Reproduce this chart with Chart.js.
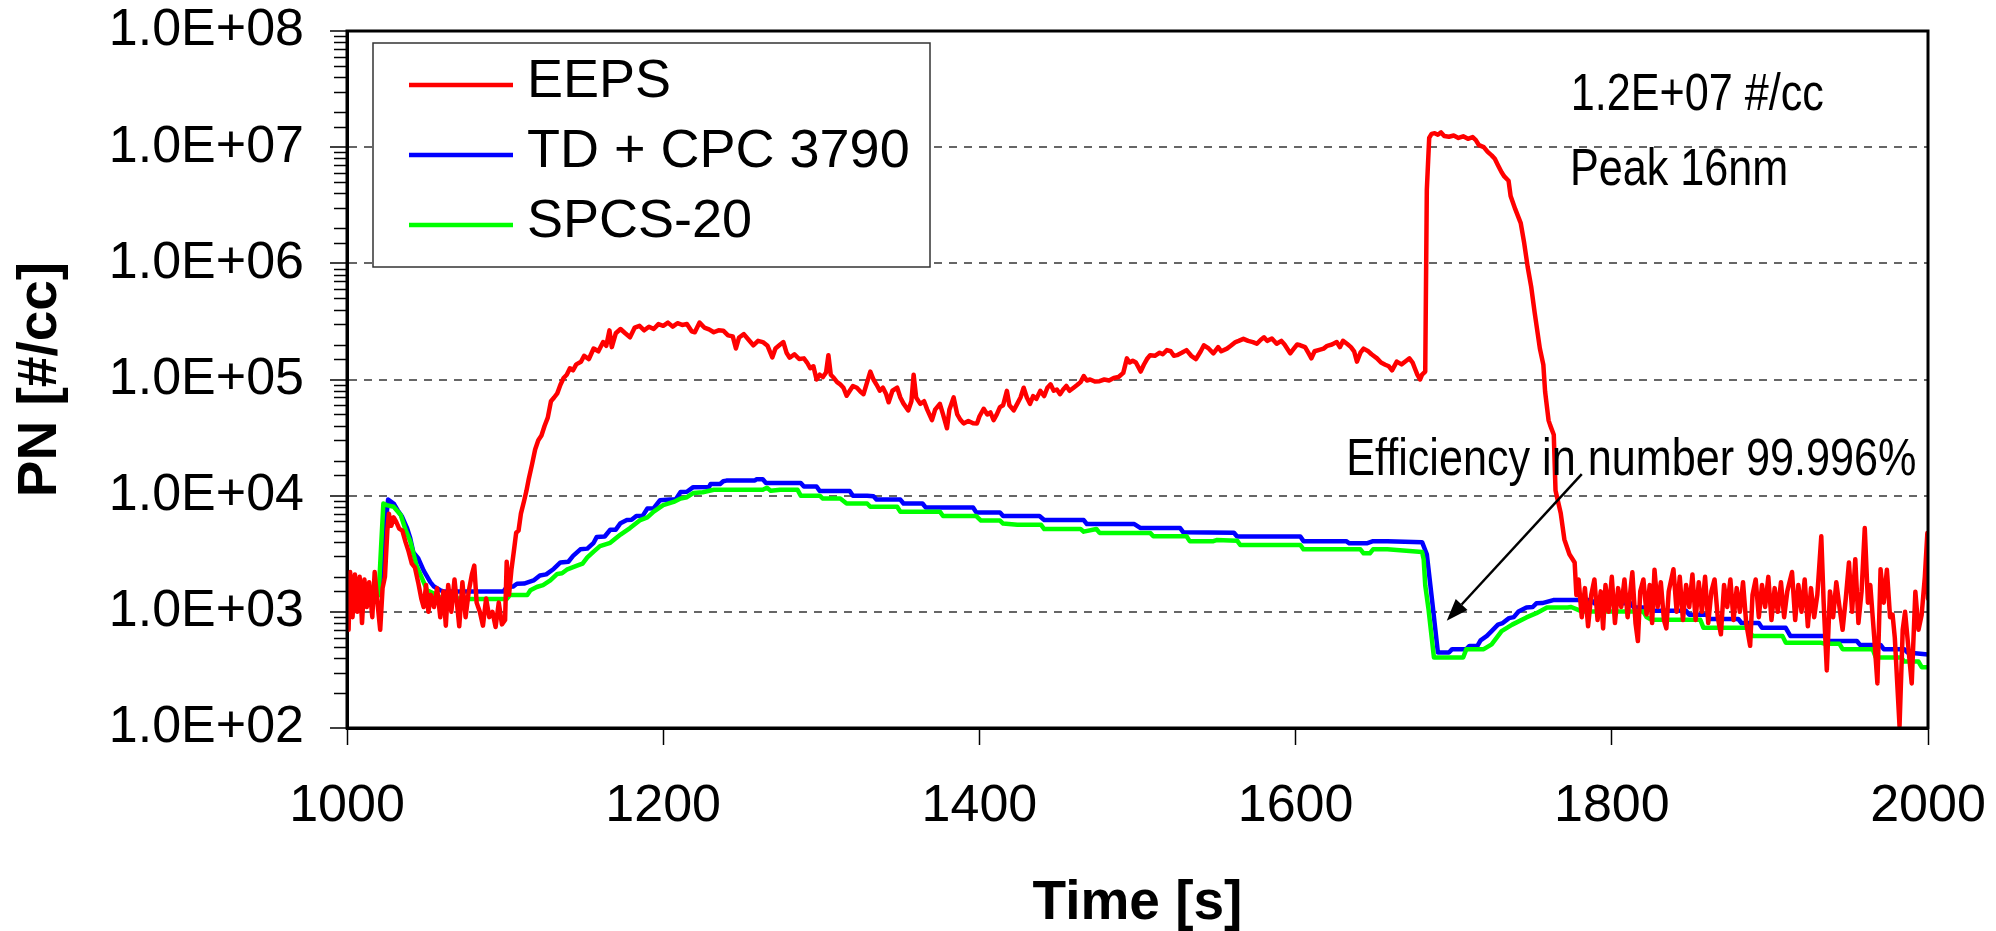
<!DOCTYPE html>
<html>
<head>
<meta charset="utf-8">
<title>PN vs time</title>
<script src="https://cdn.jsdelivr.net/npm/chart.js@4.4.1/dist/chart.umd.min.js"></script>
<style>
    html, body { margin: 0; padding: 0; background: #fff; }
    #wrap { width: 1996px; height: 931px; }
</style>
</head>
<body>
<div id="wrap"><canvas id="pn-chart" width="1996" height="931"></canvas></div>
<script>
const FONT = '"Liberation Sans", Arial, Helvetica, sans-serif';

const seriesLabels = ['EEPS', 'TD + CPC 3790', 'SPCS-20'];
const seriesColors = ['#ff0000', '#0000ff', '#00ff00'];

const timeTicks = [1000, 1200, 1400, 1600, 1800, 2000];
const pnTickLabels = ['1.0E+02', '1.0E+03', '1.0E+04', '1.0E+05', '1.0E+06', '1.0E+07', '1.0E+08'];

// [time s, PN #/cc]
const eepsSeries = [
    [1000, 1100], [1001, 700], [1002, 2200], [1003.5, 900], [1005, 2100], [1006.5, 1000], [1008, 2000], [1009.5, 800],
    [1011, 1900], [1012.5, 1100], [1014, 1800], [1016, 900], [1017.5, 2200], [1019, 1300], [1021, 700], [1022.5, 1600],
    [1024, 2000], [1025.5, 5000], [1026.5, 7000], [1028, 5500], [1029.5, 6500], [1031, 6000], [1033, 5200], [1035, 5000],
    [1037, 4000], [1039, 3300], [1041, 2600], [1043, 2400], [1045, 1800], [1047, 1300], [1048.5, 1100], [1050, 1700],
    [1051.5, 1000], [1053, 1400], [1055, 1100], [1057, 1600], [1059, 900], [1061, 1500], [1062.5, 760], [1064, 1700],
    [1066, 1000], [1068, 1900], [1069.5, 1200], [1071, 750], [1073, 1800], [1075, 900], [1077, 1500], [1079, 2100],
    [1080.5, 2500], [1082, 1200], [1084, 1000], [1086, 760], [1088, 1300], [1090, 900], [1092, 1000], [1094, 740],
    [1096, 1200], [1098, 780], [1100, 850], [1101, 2700], [1102.5, 1400], [1104, 2300], [1105.5, 3300], [1107, 4800],
    [1108.5, 5000], [1110, 7000], [1112, 9000], [1113.5, 11000], [1115, 14000], [1117, 18500], [1119, 25000], [1121, 30000],
    [1123, 33000], [1125, 40000], [1127, 47000], [1129, 65000], [1131, 70000], [1133, 76000], [1135, 90000], [1137, 103000],
    [1139, 110000], [1141, 125000], [1143, 120000], [1145, 135000], [1148, 142000], [1150, 160000], [1153, 150000], [1156, 185000],
    [1159, 175000], [1162, 210000], [1164, 195000], [1166, 265000], [1167.5, 190000], [1170, 250000], [1173, 272000], [1176, 250000],
    [1179, 231000], [1182, 280000], [1185, 290000], [1188, 265000], [1191, 285000], [1194, 272000], [1197, 300000], [1200, 290000],
    [1203, 309000], [1206, 285000], [1209, 305000], [1212, 295000], [1215, 300000], [1218, 260000], [1220, 255000], [1223, 309000],
    [1226, 280000], [1229, 270000], [1232, 255000], [1235, 265000], [1238, 263000], [1241, 240000], [1244, 235000], [1246, 185000],
    [1248, 230000], [1251, 246000], [1254, 220000], [1257, 197000], [1260, 215000], [1263, 210000], [1266, 195000], [1269, 155000],
    [1271, 185000], [1274, 200000], [1276, 210000], [1278, 170000], [1280, 154000], [1283, 165000], [1286, 150000], [1289, 152000],
    [1291, 140000], [1293, 125000], [1295, 130000], [1297, 100000], [1299, 110000], [1301, 105000], [1303, 115000], [1304.5, 162000],
    [1306, 110000], [1308, 103000], [1310, 95000], [1312, 90800], [1314, 85000], [1316, 72400], [1318, 80000], [1320, 88000],
    [1322.5, 85000], [1325, 78000], [1326.7, 74800], [1329, 95000], [1331, 117000], [1333, 100000], [1335, 90000], [1337, 80000],
    [1339, 85000], [1341, 75000], [1342.6, 63700], [1345, 80000], [1348, 85000], [1350, 70000], [1352, 62000], [1355, 54200],
    [1357, 65000], [1358.4, 110000], [1360, 70000], [1362.6, 61700], [1365, 65000], [1367, 55000], [1370, 44700], [1372, 55000],
    [1375, 61700], [1377, 50000], [1379.5, 38000], [1381, 55000], [1383.7, 70100], [1386, 50000], [1388, 45000], [1390, 41900],
    [1393, 44000], [1396, 42000], [1398.5, 41900], [1400, 48000], [1402.7, 56000], [1405, 50000], [1407, 52000], [1409, 44700],
    [1411, 50000], [1413, 57800], [1415, 60000], [1417.4, 79800], [1419, 60000], [1421.7, 54200], [1424, 62000], [1426, 70000],
    [1428, 85000], [1430, 70000], [1432, 61700], [1434, 72000], [1436, 68000], [1438.5, 79800], [1441, 72000], [1443, 85000],
    [1445, 90800], [1447, 80000], [1449, 82000], [1451, 74800], [1453, 82000], [1455, 88000], [1457, 80000], [1459.6, 85000],
    [1462, 90000], [1464, 95000], [1466, 107000], [1468, 98000], [1470, 100000], [1473, 96000], [1476, 96800], [1479, 100000],
    [1482, 98000], [1485, 103000], [1488, 105000], [1491, 114000], [1493.3, 152000], [1495, 140000], [1497, 145000], [1499, 140000],
    [1502, 117000], [1504, 134000], [1506, 150000], [1508, 162000], [1511, 160000], [1514, 170000], [1516, 165000], [1518.6, 179000],
    [1521, 175000], [1523, 160000], [1525, 162000], [1528, 170000], [1531, 179000], [1534, 160000], [1537, 150000], [1540, 175000],
    [1542, 197000], [1545, 185000], [1548, 168000], [1551, 190000], [1553, 175000], [1556.6, 184500], [1559, 195000], [1562, 210000],
    [1564, 215000], [1567, 224000], [1570, 215000], [1573, 210000], [1575.5, 203000], [1578, 220000], [1580, 231000], [1582, 215000],
    [1585, 225000], [1588, 203000], [1591, 215000], [1593, 200000], [1596.6, 168000], [1599, 185000], [1601, 200000], [1603, 197000],
    [1606, 190000], [1608, 170000], [1610, 152000], [1612, 175000], [1615, 180000], [1617.7, 184500], [1620, 195000], [1623, 200000],
    [1626, 210000], [1628, 190000], [1630, 215000], [1632.5, 203000], [1635, 190000], [1637, 175000], [1638.8, 142600], [1641, 170000],
    [1643, 184500], [1646, 175000], [1648, 165000], [1651.5, 152000], [1654, 140000], [1656.7, 134000], [1659, 130000], [1661, 120000],
    [1664, 142600], [1667, 135000], [1670, 145000], [1672, 152000], [1674, 140000], [1675.4, 125000], [1677, 110000], [1678.7, 100000],
    [1680, 110000], [1682, 117000], [1683, 4300000], [1684.5, 12000000], [1686, 13000000], [1688, 13200000], [1690, 12800000], [1692, 13400000],
    [1694, 12500000], [1697, 12300000], [1700, 12600000], [1703, 12000000], [1706, 12400000], [1709, 11800000], [1712, 12200000], [1714, 11500000],
    [1716, 10400000], [1719, 10000000], [1721.5, 9100000], [1724, 8500000], [1726, 7950000], [1728, 7000000], [1730.3, 6080000], [1732, 5600000],
    [1734.7, 5140000], [1736, 3800000], [1739, 2910000], [1742.4, 2220000], [1744.6, 1490000], [1746.8, 930000], [1749, 630000], [1751.2, 377000],
    [1754.5, 185000], [1756.7, 134000], [1757.8, 79000], [1760, 44500], [1761, 40500], [1763.3, 33400], [1764.4, 11100], [1767.7, 7050],
    [1770, 4200], [1773.2, 3130], [1776.5, 2660], [1777.6, 1393], [1779, 1900], [1781, 900], [1783, 1600], [1785, 750],
    [1787, 1400], [1789, 1900], [1791, 850], [1793, 1500], [1794.5, 720], [1796, 1700], [1798, 1000], [1800, 2000],
    [1802, 800], [1804, 1600], [1806, 1100], [1808, 1900], [1810, 900], [1813, 2190], [1815, 800], [1816.5, 560],
    [1818, 1500], [1820, 1900], [1822, 950], [1824, 1700], [1825.5, 800], [1827, 2300], [1829, 1100], [1831, 1800],
    [1833, 850], [1834.5, 720], [1836, 1500], [1839, 2330], [1841, 1000], [1843, 2000], [1845, 850], [1847, 1700],
    [1849, 1100], [1851, 2100], [1853, 850], [1855, 1800], [1857, 1000], [1859, 2000], [1861, 800], [1863, 1500],
    [1865, 1900], [1867, 900], [1869, 640], [1871, 1700], [1873, 1100], [1875, 1900], [1877, 850], [1879, 1600],
    [1881, 1000], [1883, 1800], [1885, 800], [1887.5, 510], [1889, 1400], [1891, 1900], [1893, 900], [1895, 1700],
    [1897, 1100], [1899, 2000], [1901, 850], [1903, 1600], [1905, 1000], [1907, 1800], [1909, 900], [1911, 1500],
    [1914, 2200], [1916, 850], [1918, 1700], [1920, 1000], [1922, 1900], [1924, 750], [1926, 1600], [1928, 900],
    [1930, 1400], [1932.5, 4470], [1934, 1200], [1936, 313], [1938, 1500], [1940, 900], [1942, 1800], [1944, 1100],
    [1946, 700], [1948, 1300], [1950, 2660], [1952, 1000], [1954, 2840], [1956, 800], [1958, 1500], [1960, 5260],
    [1962, 1200], [1963.5, 1700], [1966, 600], [1968, 242], [1970, 2330], [1972, 1200], [1974, 2300], [1976, 900],
    [1977.6, 945], [1979, 600], [1982, 104], [1984, 700], [1985.5, 1000], [1987, 600], [1989.7, 242], [1992, 1490],
    [1994, 700], [1996, 945], [1998, 2000], [1999.6, 4780], [2000, 1300]
];

const cpcSeries = [
    [1000, 1350], [1004, 1400], [1005, 1500], [1012, 1500], [1013, 1560], [1014, 1500], [1020, 1500], [1022, 2200],
    [1024, 5000], [1026, 9250], [1029.5, 8560], [1032, 7500], [1034.8, 6600], [1038, 5260], [1040, 4300], [1042, 3240],
    [1045, 2900], [1048.5, 2265], [1052.7, 1800], [1055, 1650], [1059, 1534], [1061, 1500], [1099, 1500], [1101, 1636],
    [1105, 1650], [1107.5, 1746], [1112, 1750], [1118, 1863], [1122, 2055], [1126, 2100], [1130.7, 2340], [1135, 2660],
    [1140, 2700], [1143, 3030], [1147.6, 3450], [1152, 3500], [1156, 3930], [1158, 4415], [1163, 4450], [1166.5, 5090],
    [1170, 5100], [1173, 5800], [1177, 6170], [1180, 6200], [1183, 6680], [1187, 6700], [1190, 7760], [1194, 7800],
    [1198, 9130], [1204.5, 9250], [1208, 9300], [1211, 10740], [1215, 10800], [1219, 11840], [1229, 11850], [1230, 12630],
    [1236, 12600], [1238, 13300], [1240, 13480], [1258, 13480], [1259, 13820], [1263, 13820], [1265, 12880], [1287, 12880],
    [1289, 12000], [1297, 12000], [1299, 10950], [1318, 10950], [1320, 10000], [1329, 10000], [1333, 9900], [1335, 9250],
    [1350, 9250], [1352, 8560], [1364, 8560], [1366, 7920], [1396, 7900], [1398, 7180], [1413, 7180], [1415, 6680],
    [1438, 6680], [1441, 6170], [1466, 6170], [1468, 5690], [1498, 5690], [1502, 5260], [1527, 5260], [1529, 4840],
    [1561, 4800], [1563, 4450], [1603, 4450], [1605, 4060], [1632, 4060], [1634, 3890], [1645, 3890], [1649, 4060],
    [1658, 4060], [1680, 3980], [1683, 3130], [1686.5, 1200], [1690, 447], [1697, 447], [1699, 477], [1708, 477],
    [1710, 509], [1715, 509], [1717, 569], [1721, 620], [1724, 682], [1728, 776], [1731, 800], [1735, 883],
    [1738, 900], [1741, 1006], [1746, 1088], [1750, 1100], [1752.3, 1184], [1756, 1190], [1763, 1262], [1787, 1262],
    [1789, 1184], [1812, 1184], [1814, 1088], [1825, 1088], [1827, 1020], [1847, 1020], [1849, 944], [1860, 944],
    [1862, 867], [1880, 867], [1882, 802], [1893, 802], [1895, 728], [1910, 728], [1913, 618], [1935, 618],
    [1937, 561], [1955, 561], [1957, 519], [1970, 519], [1972, 477], [1985, 477], [1987, 447], [2000, 430]
];

const spcsSeries = [
    [1000, 1184], [1006, 1184], [1007, 1220], [1010, 1280], [1013, 1200], [1016, 1200], [1018, 1300], [1020, 1393],
    [1021.5, 3500], [1023, 8560], [1025, 8300], [1029.5, 8020], [1034, 6820], [1037, 5090], [1040, 4060], [1044, 2495],
    [1048.5, 1800], [1050.6, 1534], [1057, 1393], [1059, 1320], [1061, 1305], [1072, 1305], [1073, 1207], [1076, 1290],
    [1101, 1290], [1103, 1393], [1114, 1393], [1116, 1534], [1120, 1636], [1124, 1700], [1128.6, 1863], [1133, 2120],
    [1136, 2150], [1139, 2305], [1145.5, 2495], [1149, 2600], [1152, 2940], [1156, 3300], [1160, 3680], [1166.5, 3930],
    [1173, 4625], [1179, 5260], [1185.5, 6170], [1190, 6500], [1194, 7280], [1200, 8280], [1206.6, 8830], [1211, 9440],
    [1215, 9700], [1219, 10540], [1225, 10700], [1232, 11230], [1263, 11230], [1265.6, 11690], [1268, 11000], [1274, 11230],
    [1285, 11230], [1287, 10000], [1299, 10000], [1301, 9440], [1312, 9440], [1316, 8560], [1329, 8560], [1331, 8020],
    [1348, 8020], [1350, 7280], [1375, 7280], [1377, 6680], [1398, 6680], [1401, 6110], [1413, 6110], [1415, 5750],
    [1424, 5610], [1439, 5610], [1441, 5160], [1464, 5160], [1466, 4900], [1474, 5160], [1476, 4780], [1508, 4780],
    [1510, 4470], [1531, 4470], [1533, 4060], [1548, 4060], [1550, 4150], [1563, 4100], [1565, 3760], [1603, 3760],
    [1605, 3450], [1641, 3450], [1643, 3190], [1647, 3190], [1649, 3450], [1658, 3450], [1680, 3270], [1681, 2840],
    [1682, 1690], [1684, 1072], [1687.5, 405], [1706, 405], [1708, 477], [1719, 477], [1724, 525], [1730.3, 682],
    [1737, 776], [1746, 895], [1752.3, 974], [1759, 1088], [1772, 1088], [1774.3, 1100], [1778, 1050], [1781, 1006],
    [1820, 1006], [1822, 900], [1825, 855], [1856, 855], [1858, 728], [1886, 728], [1889, 618], [1908, 618],
    [1910, 543], [1932, 543], [1935, 530], [1944, 530], [1946, 477], [1965, 477], [1967, 405], [1983, 405],
    [1985, 373], [1994, 373], [1996, 334], [2000, 334]
];

// text notes and the arrow, anchored in data space [time, PN]
const noteTexts = ['1.2E+07 #/cc', 'Peak 16nm', 'Efficiency in number 99.996%'];
const noteTimes = [1774, 1773.5, 1632];
const notePN = [2.09e7, 4.72e6, 1.5e4];
const arrowFrom = [1781, 15350];
const arrowTo = [1695.6, 839];

function toPoints(series) {
    return series.map(p => ({ x: p[0], y: p[1] }));
}

function isDecade(v) {
    const e = Math.log10(v);
    return Math.abs(e - Math.round(e)) < 1e-6;
}

const framePlugin = {
    id: 'frame',
    afterDraw(chart) {
        const { ctx, chartArea: a } = chart;
        const y = chart.scales.y;
        ctx.save();
        // shorter ticks for the 2..9 steps of each decade
        ctx.strokeStyle = '#000';
        ctx.lineWidth = 1.5;
        ctx.beginPath();
        y.ticks.forEach(t => {
            if (isDecade(t.value)) return;
            const py = Math.round(y.getPixelForValue(t.value)) + 0.5;
            ctx.moveTo(a.left - 13, py);
            ctx.lineTo(a.left, py);
        });
        ctx.stroke();
        ctx.lineWidth = 3;
        ctx.strokeRect(a.left, a.top, a.right - a.left, a.bottom - a.top);
        ctx.restore();
    }
};

const boxLegend = {
    id: 'boxLegend',
    afterDraw(chart) {
        const ctx = chart.ctx;
        ctx.save();
        ctx.fillStyle = '#fff';
        ctx.fillRect(373, 43, 557, 224);
        ctx.strokeStyle = '#333';
        ctx.lineWidth = 1.5;
        ctx.strokeRect(373, 43, 557, 224);
        ctx.font = '54px ' + FONT;
        ctx.textBaseline = 'alphabetic';
        chart.data.datasets.forEach((ds, i) => {
            const rowY = 85 + i * 70;
            ctx.strokeStyle = ds.borderColor;
            ctx.lineWidth = 4.5;
            ctx.beginPath();
            ctx.moveTo(409, rowY);
            ctx.lineTo(513, rowY);
            ctx.stroke();
            ctx.fillStyle = '#000';
            ctx.fillText(ds.label, 527, rowY + 12);
        });
        ctx.restore();
    }
};

const notesPlugin = {
    id: 'notes',
    afterDraw(chart) {
        const { ctx } = chart;
        const x = chart.scales.x;
        const y = chart.scales.y;
        ctx.save();
        ctx.fillStyle = '#000';
        ctx.font = '52px ' + FONT;
        ctx.textBaseline = 'alphabetic';
        noteTexts.forEach((txt, i) => {
            ctx.save();
            ctx.translate(x.getPixelForValue(noteTimes[i]), y.getPixelForValue(notePN[i]));
            ctx.scale(0.83, 1);
            ctx.fillText(txt, 0, 0);
            ctx.restore();
        });

        const x1 = x.getPixelForValue(arrowFrom[0]), y1 = y.getPixelForValue(arrowFrom[1]);
        const x2 = x.getPixelForValue(arrowTo[0]), y2 = y.getPixelForValue(arrowTo[1]);
        const ang = Math.atan2(y2 - y1, x2 - x1);
        const headLen = 22, headHalf = 8;
        const bx = x2 - headLen * Math.cos(ang), by = y2 - headLen * Math.sin(ang);
        ctx.strokeStyle = '#000';
        ctx.lineWidth = 2.5;
        ctx.beginPath();
        ctx.moveTo(x1, y1);
        ctx.lineTo(bx, by);
        ctx.stroke();
        ctx.beginPath();
        ctx.moveTo(x2, y2);
        ctx.lineTo(bx + headHalf * Math.sin(ang), by - headHalf * Math.cos(ang));
        ctx.lineTo(bx - headHalf * Math.sin(ang), by + headHalf * Math.cos(ang));
        ctx.closePath();
        ctx.fill();
        ctx.restore();
    }
};

function makeDataset(i, series, order) {
    return {
        label: seriesLabels[i],
        data: toPoints(series),
        borderColor: seriesColors[i],
        backgroundColor: seriesColors[i],
        borderWidth: 4.5,
        pointRadius: 0,
        tension: 0,
        fill: false,
        borderJoinStyle: 'round',
        borderCapStyle: 'round',
        order: order
    };
}

function drawChart() {
    const ctx = document.getElementById('pn-chart').getContext('2d');

    window.pnChart = new Chart(ctx, {
        type: 'line',
        data: {
            datasets: [
                makeDataset(0, eepsSeries, 0),
                makeDataset(1, cpcSeries, 2),
                makeDataset(2, spcsSeries, 1)
            ]
        },
        options: {
            responsive: false,
            animation: false,
            devicePixelRatio: 1,
            layout: { padding: { top: 31, right: 68, bottom: 0, left: 0 } },
            plugins: {
                legend: { display: false },
                tooltip: { enabled: false }
            },
            scales: {
                x: {
                    type: 'linear',
                    min: 1000,
                    max: 2000,
                    afterBuildTicks: scale => {
                        scale.ticks = timeTicks.map(v => ({ value: v }));
                    },
                    afterFit: scale => {
                        scale.height = 203;
                        scale.paddingLeft = 0;
                        scale.paddingRight = 0;
                    },
                    ticks: {
                        color: '#000',
                        font: { family: FONT, size: 52 },
                        padding: 30,
                        maxRotation: 0,
                        autoSkip: false,
                        callback: value => String(value)
                    },
                    grid: {
                        drawOnChartArea: false,
                        drawTicks: true,
                        tickLength: 17,
                        tickColor: '#000',
                        tickWidth: 1.5
                    },
                    border: { color: '#000', width: 3 },
                    title: {
                        display: true,
                        text: 'Time [s]',
                        color: '#000',
                        font: { family: FONT, size: 55, weight: 'bold', lineHeight: 1 },
                        padding: { top: 0, bottom: 0 }
                    }
                },
                y: {
                    type: 'logarithmic',
                    min: 100,
                    max: 1e8,
                    afterFit: scale => {
                        scale.width = 347;
                        scale.paddingTop = 0;
                        scale.paddingBottom = 0;
                    },
                    ticks: {
                        color: '#000',
                        font: { family: FONT, size: 52 },
                        padding: 26,
                        autoSkip: false,
                        callback: value => {
                            if (!isDecade(value)) return '';
                            return pnTickLabels[Math.round(Math.log10(value)) - 2];
                        }
                    },
                    grid: {
                        color: c => (c.tick && isDecade(c.tick.value)) ? '#666' : 'rgba(0,0,0,0)',
                        lineWidth: 2,
                        drawTicks: true,
                        tickLength: 17,
                        tickWidth: 1.5,
                        tickColor: c => (c.tick && isDecade(c.tick.value)) ? '#000' : 'rgba(0,0,0,0)',
                        tickBorderDash: []
                    },
                    border: { color: '#000', width: 3, dash: [8, 7] },
                    title: {
                        display: true,
                        text: 'PN [#/cc]',
                        color: '#000',
                        font: { family: FONT, size: 55, weight: 'bold', lineHeight: 1 },
                        padding: { top: 13, bottom: 0 }
                    }
                }
            }
        },
        plugins: [framePlugin, boxLegend, notesPlugin]
    });
}

document.addEventListener('DOMContentLoaded', () => {
    drawChart();
});
</script>
</body>
</html>
